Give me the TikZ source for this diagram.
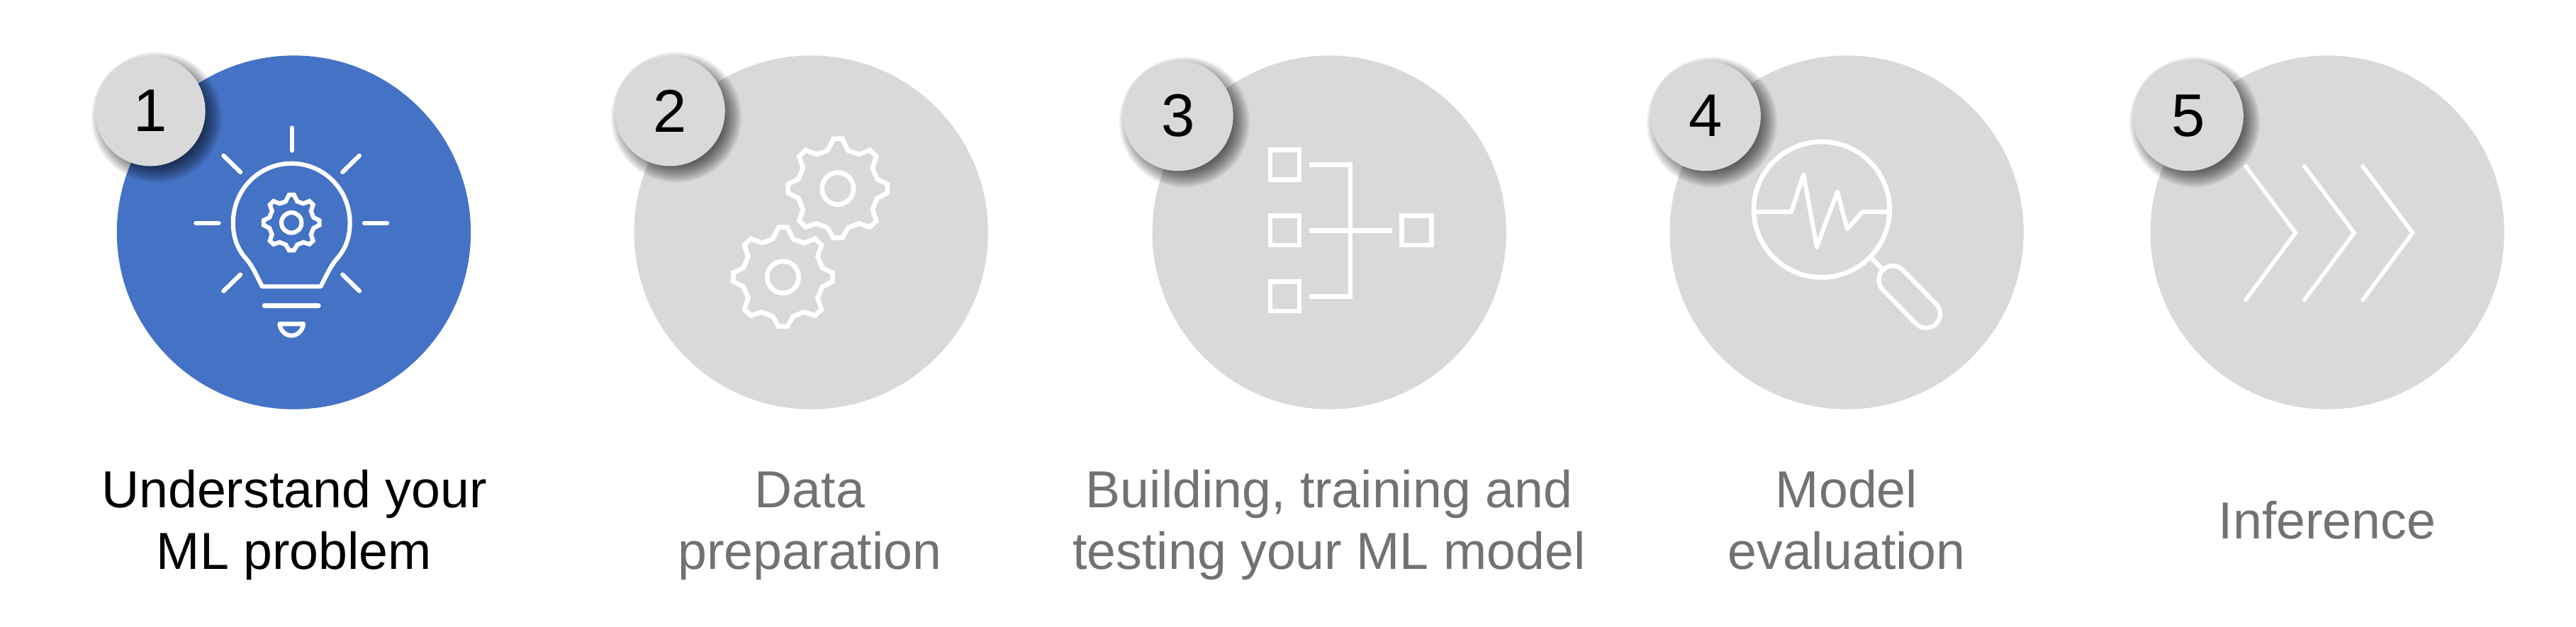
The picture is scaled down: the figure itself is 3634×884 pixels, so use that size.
\documentclass[tikz,border=0pt]{standalone}
\usepackage{fontspec}
\setmainfont{Liberation Sans}
\definecolor{stepblue}{HTML}{4472C4}
\definecolor{stepgrey}{HTML}{D9D9D9}
\definecolor{labelgrey}{HTML}{767171}
\newcommand{\gearoutline}{(-16,-197) -- (16,-197) -- (38,-150) -- (78,-135) -- (118,-152) -- (142,-127) -- (128,-82) -- (145,-37) -- (183,-17) -- (183,17) -- (145,38) -- (128,83) -- (142,128) -- (118,152) -- (78,138) -- (38,155) -- (16,195) -- (-16,195) -- (-38,155) -- (-78,138) -- (-118,152) -- (-142,128) -- (-128,83) -- (-145,38) -- (-183,17) -- (-183,-17) -- (-145,-37) -- (-128,-82) -- (-142,-127) -- (-118,-152) -- (-78,-135) -- (-38,-150) -- cycle}
\newcommand{\softshadow}[2]{%
  \foreach \rr in {92,90,...,68}{\fill[black,opacity=.06] (#1+9,#2+9) circle [radius=\rr];}}
\tikzset{
  disc/.style={circle,minimum size=4.99cm,inner sep=0pt,fill=stepgrey},
  badge/.style={circle,minimum size=1.555cm,inner sep=0pt,fill=stepgrey,text=black,font=\fontsize{24.2}{28}\selectfont},
  steplabel/.style={align=center,inner sep=0pt,text=labelgrey,font=\fontsize{20.9}{24.8}\selectfont},
  iconline/.style={draw=white,line width=1.9pt,fill=none},
  zoomA/.style={shift={(120,50)},x=0.003827cm,y=-0.003571cm},
  zoomB/.style={shift={(860,50)},x=0.003827cm,y=-0.003571cm},
  zoomC/.style={shift={(1580,50)},x=0.003827cm,y=-0.003571cm},
  zoomD/.style={shift={(2320,50)},x=0.003827cm,y=-0.003571cm},
  zoomE/.style={shift={(3000,50)},x=0.003827cm,y=-0.003571cm}
}
\begin{document}
\begin{tikzpicture}[x=0.01cm,y=-0.01cm]
\useasboundingbox (0,0) rectangle (3634,884);
% discs
\node[disc,fill=stepblue] (d1) at (414.5,328) {};
\node[disc] (d2) at (1144.2,328) {};
\node[disc] (d3) at (1875.2,328) {};
\node[disc] (d4) at (2605.1,328) {};
\node[disc] (d5) at (3283.2,328) {};
% badges
\softshadow{211.9}{156.6}
\node[badge] (b1) at (211.9,156.6) {1};
\softshadow{945}{156.6}
\node[badge] (b2) at (945,156.6) {2};
\softshadow{1661.9}{163.4}
\node[badge] (b3) at (1661.9,163.4) {3};
\softshadow{2406.1}{163.4}
\node[badge] (b4) at (2406.1,163.4) {4};
\softshadow{3087}{163.4}
\node[badge] (b5) at (3087,163.4) {5};
% icon 1
\begin{scope}[zoomA]
\foreach \a/\b/\c/\d in {762/365/762/455,510/475/572/540,1010/475/948/540,408/741/492/741,1028/741/1112/741,572/945/510/1010,948/945/1010/1010,660/1068/860/1068}
  \draw[iconline,line width=1.75pt,line cap=round] (\a,\b) -- (\c,\d);
\draw[iconline,line width=1.75pt,line join=round] (652,992) -- (868,992) .. controls (890,945) and (905,910) .. (925,885) .. controls (955,850) and (975,805) .. (975,740) .. controls (975,610) and (880,506) .. (760,506) .. controls (640,506) and (545,610) .. (545,740) .. controls (545,805) and (565,850) .. (595,885) .. controls (615,910) and (630,945) .. (652,992) -- cycle;
\draw[iconline,line width=1.75pt,line join=round] (716,1140) -- (804,1140) .. controls (800,1170) and (780,1186) .. (760,1186) .. controls (740,1186) and (720,1170) .. (716,1140) -- cycle;
\draw[iconline,line width=1.75pt] (760,740) circle [x radius=37,y radius=40];
\begin{scope}[shift={(760,740)},scale=.56]
\draw[iconline,line width=1.75pt] \gearoutline;
\end{scope}
\end{scope}
% icon 2
\begin{scope}[zoomB]
\begin{scope}[shift={(840,605)}]
\draw[iconline] \gearoutline;
\draw[iconline] (0,0) circle [x radius=58,y radius=63];
\end{scope}
\begin{scope}[shift={(638,955)}]
\draw[iconline] \gearoutline;
\draw[iconline] (0,0) circle [x radius=58,y radius=63];
\end{scope}
\end{scope}
% icon 3
\begin{scope}[zoomC]
\draw[iconline] (553,452) rectangle (660,570);
\draw[iconline] (553,712) rectangle (660,829);
\draw[iconline] (553,972) rectangle (660,1089);
\draw[iconline] (1038,712) rectangle (1146,829);
\draw[iconline] (696,511) -- (848,511) -- (848,1031) -- (696,1031);
\draw[iconline] (696,771) -- (1001,771);
\end{scope}
% icon 4
\begin{scope}[zoomD]
\draw[iconline] (652,688) circle [x radius=250,y radius=268];
\draw[iconline,line width=1.75pt,line join=round] (402,697) -- (540,697) -- (585,550) -- (634,835) -- (710,618) -- (746,765) -- (802,697) -- (902,697);
\draw[iconline,line width=1.75pt] (838,882) -- (875,925);
\end{scope}
\coordinate (h1) at (2670.2,395.1);
\coordinate (h2) at (2717.2,443);
\draw[white,line width=13.1pt,line cap=round] (h1) -- (h2);
\draw[stepgrey,line width=9.4pt,line cap=round] (h1) -- (h2);
% icon 5
\begin{scope}[zoomE]
\foreach \dx in {0,216,431}
  \draw[iconline,line width=1.6pt] (435+\dx,512) -- (622+\dx,780) -- (435+\dx,1050);
\end{scope}
% labels
\node[steplabel,text=black] (l1) at (415,742.8) {\strut Understand your\\\strut ML problem};
\node[steplabel] (l2) at (1142.5,742.8) {\strut Data\\\strut preparation};
\node[steplabel] (l3) at (1875,742.8) {\strut Building, training and\\\strut testing your ML model};
\node[steplabel] (l4) at (2605,742.8) {\strut Model\\\strut evaluation};
\node[steplabel] (l5) at (3283,743.4) {\strut Inference};
\end{tikzpicture}
\end{document}
